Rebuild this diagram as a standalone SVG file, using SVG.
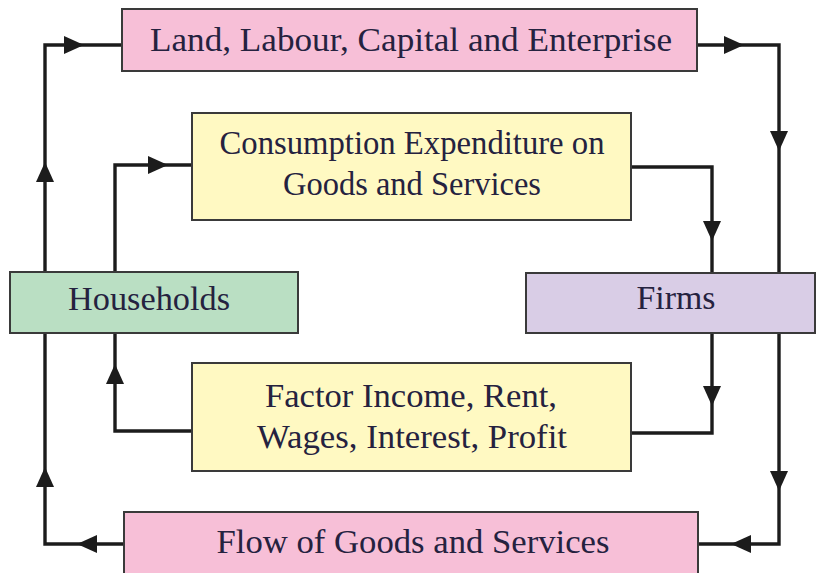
<svg xmlns="http://www.w3.org/2000/svg" xmlns:xlink="http://www.w3.org/1999/xlink" width="817" height="573" viewBox="0 0 817 573">
<style>
.box{stroke:#3a3a3a;stroke-width:2}
.pink{fill:#f7bfd7}
.yellow{fill:#fff9c2}
.green{fill:#badfc3}
.lav{fill:#d9cde6}
.t{font-family:"Liberation Serif","Times New Roman",serif;font-size:34px;fill:#25223f;text-anchor:middle}
.c{fill:none;stroke:#1c1c1c;stroke-width:3.4;stroke-linejoin:miter}
.ah{fill:#1c1c1c}
</style>
<defs>
<path id="arr" class="ah" d="M0,0 L-20,-9 L-20,9 Z"/>
</defs>
<rect x="0" y="0" width="817" height="573" fill="#ffffff"/>
<g id="connectors">
<path class="c" d="M45,272 V45 H122"/>
<path class="c" d="M697,45 H779 V273"/>
<path class="c" d="M115,272 V165 H192"/>
<path class="c" d="M631,167 H712 V273"/>
<path class="c" d="M712,333 V433 H631"/>
<path class="c" d="M192,431 H115 V333"/>
<path class="c" d="M779,333 V544 H698"/>
<path class="c" d="M124,544 H45 V333"/>
<use xlink:href="#arr" transform="translate(45,162) rotate(-90)"/>
<use xlink:href="#arr" transform="translate(84,45)"/>
<use xlink:href="#arr" transform="translate(744,45)"/>
<use xlink:href="#arr" transform="translate(779,151) rotate(90)"/>
<use xlink:href="#arr" transform="translate(168,165)"/>
<use xlink:href="#arr" transform="translate(712,241) rotate(90)"/>
<use xlink:href="#arr" transform="translate(712,406) rotate(90)"/>
<use xlink:href="#arr" transform="translate(115,364) rotate(-90)"/>
<use xlink:href="#arr" transform="translate(779,491) rotate(90)"/>
<use xlink:href="#arr" transform="translate(731,544) rotate(180)"/>
<use xlink:href="#arr" transform="translate(77,544) rotate(180)"/>
<use xlink:href="#arr" transform="translate(45,467) rotate(-90)"/>
</g>
<g id="land">
<rect class="box pink" x="122" y="9" width="575" height="62"/>
<text class="t" x="411" y="51" textLength="522" lengthAdjust="spacingAndGlyphs">Land, Labour, Capital and Enterprise</text>
</g>
<g id="consumption">
<rect class="box yellow" x="192" y="113" width="439" height="107"/>
<text class="t" x="412" y="154" textLength="385" lengthAdjust="spacingAndGlyphs">Consumption Expenditure on</text>
<text class="t" x="412" y="195" textLength="258" lengthAdjust="spacingAndGlyphs">Goods and Services</text>
</g>
<g id="households">
<rect class="box green" x="10" y="272" width="288" height="61"/>
<text class="t" x="149" y="310" textLength="162" lengthAdjust="spacingAndGlyphs">Households</text>
</g>
<g id="firms">
<rect class="box lav" x="526" y="273" width="289" height="60"/>
<text class="t" x="676" y="309" textLength="79" lengthAdjust="spacingAndGlyphs">Firms</text>
</g>
<g id="factor">
<rect class="box yellow" x="192" y="363" width="439" height="108"/>
<text class="t" x="411" y="407" textLength="292" lengthAdjust="spacingAndGlyphs">Factor Income, Rent,</text>
<text class="t" x="412" y="448" textLength="310" lengthAdjust="spacingAndGlyphs">Wages, Interest, Profit</text>
</g>
<g id="flow">
<rect class="box pink" x="124" y="512" width="574" height="62"/>
<text class="t" x="413" y="553" textLength="393" lengthAdjust="spacingAndGlyphs">Flow of Goods and Services</text>
</g>
</svg>
